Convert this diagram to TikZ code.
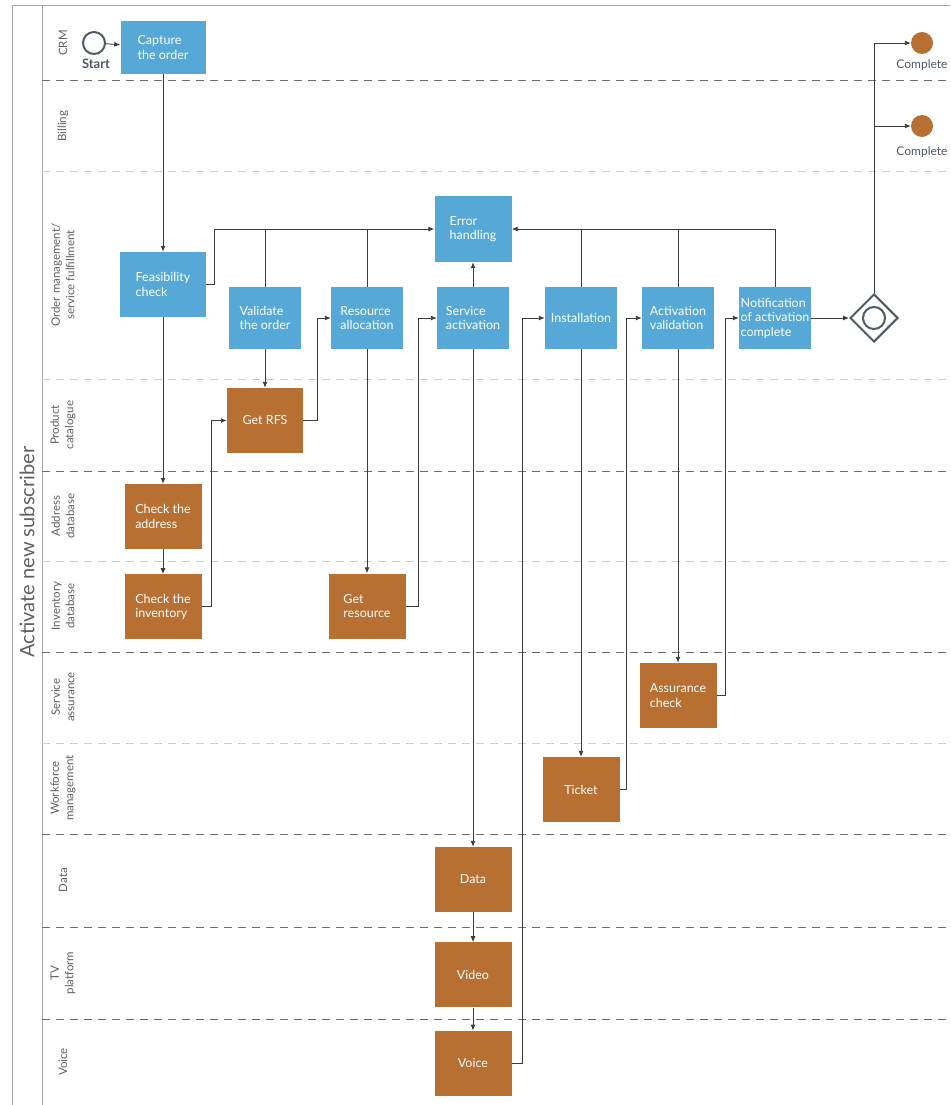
\documentclass[tikz,border=0pt]{standalone}
\usepackage{fontspec}
\setmainfont{Lato}
\usetikzlibrary{arrows.meta,shapes.geometric,positioning}
\definecolor{taskblue}{RGB}{86,169,214}
\definecolor{callbrown}{RGB}{183,112,50}
\definecolor{linegray}{RGB}{60,60,60}
\definecolor{lanegray}{RGB}{95,95,95}
\definecolor{dashdark}{RGB}{105,110,115}
\definecolor{dashlight}{RGB}{205,205,205}
\definecolor{framegray}{RGB}{165,165,165}
\definecolor{eventgray}{RGB}{80,90,100}
\tikzset{
    task/.style={rectangle,fill=taskblue,text=white,align=left,inner sep=0pt,
        minimum width=72pt,minimum height=62pt,font=\fontsize{12.5}{14.5}\selectfont},
    call/.style={task,fill=callbrown,minimum width=77pt,minimum height=65pt},
    lanelabel/.style={rotate=90,align=center,text=lanegray,font=\fontsize{11.5}{14.5}\selectfont},
    conn/.style={draw=linegray,line width=0.9pt},
    event/.style={circle,minimum size=22pt,inner sep=0pt},
}

\begin{document}
\begin{tikzpicture}[x=1pt,y=-1pt,>={Latex[length=6pt,width=5pt]}]
    \useasboundingbox (0,0) rectangle (950,1105);
    % pool and lanes
    \draw[framegray,line width=1pt] (950,6) -- (12,6) -- (12,1105);
    \draw[framegray,line width=1pt] (42,6) -- (42,1105);
    \foreach \y in {80,471,652,834,927,1019}
        \draw[dashdark,line width=0.9pt,dash pattern=on 8pt off 6pt] (42,\y) -- (950,\y);
    \foreach \y in {171,379,561,743}
        \draw[dashlight,line width=0.9pt,dash pattern=on 8pt off 6pt] (42,\y) -- (950,\y);
    \node[rotate=90,text=lanegray,font=\fontsize{20}{23}\selectfont] (pool) at (27,552) {Activate new subscriber};
    \node[lanelabel] (l1) at (63,43) {CRM};
    \node[lanelabel] (l2) at (63,126) {Billing};
    \node[lanelabel] (l3) at (63,275) {Order management/\\service fulfillment};
    \node[lanelabel] (l4) at (63,425) {Product\\catalogue};
    \node[lanelabel] (l5) at (63,516) {Address\\database};
    \node[lanelabel] (l6) at (63,606) {Inventory\\database};
    \node[lanelabel] (l7) at (63,697) {Service\\assurance};
    \node[lanelabel] (l8) at (63,788) {Workforce\\management};
    \node[lanelabel] (l9) at (63,880) {Data};
    \node[lanelabel] (l10) at (63,973) {TV\\platform};
    \node[lanelabel] (l11) at (63,1062) {Voice};

    % events and tasks
    \node[event,draw=eventgray,line width=2pt] (start) at (94,43) {};
    \node[text=eventgray,font=\fontsize{13}{15}\selectfont\bfseries] (startlbl) at (96,64) {Start};
    \node[task,minimum width=85pt,minimum height=53pt] (capture) at (163,47.5) {Capture\\the order};
    \node[task,minimum width=86pt,minimum height=65pt] (feas) at (163,284.5) {Feasibility\\check};
    \node[task] (val) at (265,318) {Validate\\the order};
    \node[task] (resalloc) at (367,318) {Resource\\allocation};
    \node[task,minimum width=77pt,minimum height=66pt] (err) at (473,229) {Error\\handling};
    \node[task] (servact) at (473,318) {Service\\activation};
    \node[task] (inst) at (581,318) {Installation};
    \node[task] (actval) at (678,318) {Activation\\validation};
    \node[task] (notif) at (775,318) {Notification\\of activation\\complete};
    \node[diamond,aspect=1,draw=eventgray,line width=2pt,minimum size=48pt,inner sep=0pt] (gw) at (874,318) {};
    \node[event,draw=eventgray,line width=2pt] (gwring) at (874,318) {};
    \node[event,fill=callbrown] (end1) at (922,43) {};
    \node[text=eventgray,font=\fontsize{12}{14}\selectfont] (end1lbl) at (922,65) {Complete};
    \node[event,fill=callbrown] (end2) at (922,126) {};
    \node[text=eventgray,font=\fontsize{12}{14}\selectfont] (end2lbl) at (922,152) {Complete};
    \node[call,minimum width=76pt] (rfs) at (265,420.5) {Get RFS};
    \node[call] (addr) at (163,516.5) {Check the\\address};
    \node[call,below=25pt of addr] (inv) {Check the\\inventory};
    \node[call] (getres) at (367,606) {Get\\resource};
    \node[call] (assur) at (678,695.5) {Assurance\\check};
    \node[call] (ticket) at (581,789.5) {Ticket};
    \node[call] (data) at (473,879.5) {Data};
    \node[call,below=30pt of data] (video) {Video};
    \node[call,below=23pt of video] (voice) {Voice};

    % sequence flows
    \draw[conn,->] (start) -- (capture);
    \draw[conn,->] (capture) -- (feas);
    \draw[conn,->] (feas) -- (addr);
    \draw[conn,->] (addr) -- (inv);
    \draw[conn,->] (inv.east) -- ++(10,0) |- (rfs.west);
    \draw[conn,->] (val) -- (rfs);
    \draw[conn,->] (rfs.east) -- ++(14,0) |- (resalloc.west);
    \draw[conn,->] (resalloc) -- (getres);
    \draw[conn,->] (getres.east) -- ++(13,0) |- (servact.west);
    \draw[conn,->] (servact) -- (err);
    \draw[conn,->] (servact) -- (data);
    \draw[conn,->] (data) -- (video);
    \draw[conn,->] (video) -- (voice);
    \draw[conn,->] (voice.east) -- ++(11,0) |- (inst.west);
    \draw[conn,->] (inst) -- (ticket);
    \draw[conn,->] (ticket.east) -- ++(7,0) |- (actval.west);
    \draw[conn,->] (actval) -- (assur);
    \draw[conn,->] (assur.east) -- ++(9,0) |- (notif.west);
    \draw[conn,->] (notif) -- (gw);
    \draw[conn,->] (gw.north) |- (end1);
    \draw[conn,->] (gw.north |- end2) -- (end2);

    % error handling
    \draw[conn,->] (feas.east) -- ++(8,0) |- (err.west);
    \draw[conn] (val.north) -- (val.north |- err.west);
    \draw[conn] (resalloc.north) -- (resalloc.north |- err.west);
    \draw[conn,->] (notif.north) |- (err.east);
    \draw[conn] (inst.north) -- (inst.north |- err.east);
    \draw[conn] (actval.north) -- (actval.north |- err.east);
\end{tikzpicture}
\end{document}
